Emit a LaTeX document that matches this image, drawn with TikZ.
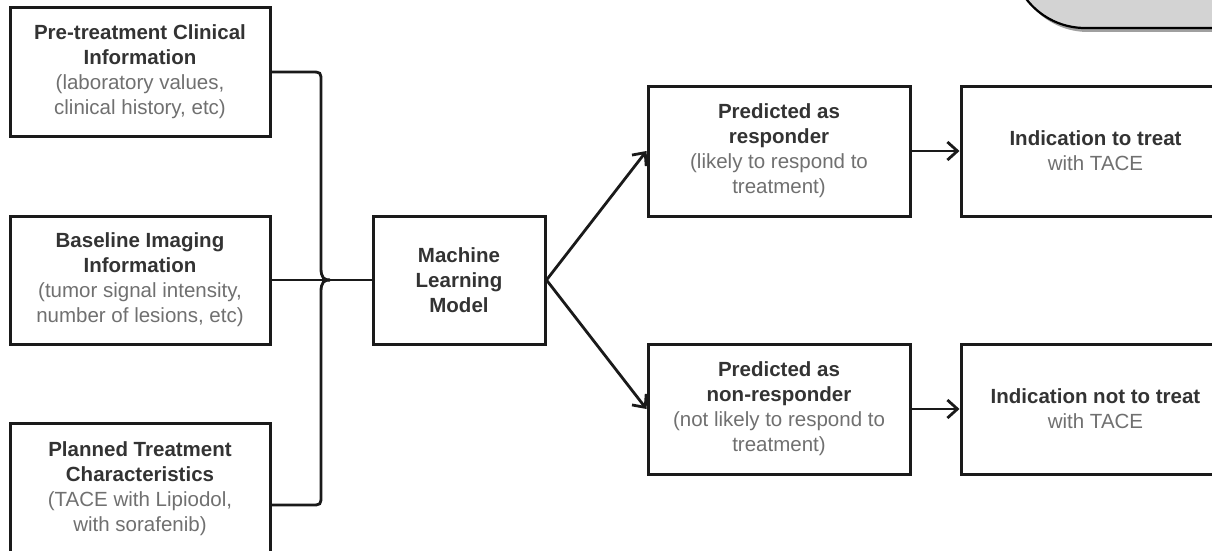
\documentclass[tikz,border=0pt]{standalone}
\usepackage{fontspec}
\setmainfont{Liberation Sans}
\usetikzlibrary{arrows.meta}
\definecolor{titlec}{HTML}{333333}
\definecolor{subc}{HTML}{707070}
\definecolor{edgec}{HTML}{1A1A1A}
\definecolor{tabfill}{HTML}{D3D3D3}
\definecolor{tabshadow}{HTML}{A0A0A0}
\tikzset{
  box/.style={draw=edgec, line width=3pt, fill=white, align=center, inner sep=0pt,
    font=\fontsize{20.5}{25}\selectfont},
  conn/.style={draw=edgec, line width=2.8pt},
  arr/.style={conn, -{Straight Barb[length=10pt,width=18pt,line width=2.8pt]}},
}
\newcommand{\ttl}[1]{\textcolor{titlec}{\textbf{#1}}}
\newcommand{\sbt}[1]{\textcolor{subc}{#1}}
\begin{document}
\begin{tikzpicture}[x=1pt,y=-1pt]
\useasboundingbox (0,0) rectangle (1212,551);
\fill[white] (0,0) rectangle (1212,551);
\clip (0,0) rectangle (1212,551);
% top-right tab
\path[fill=tabshadow, rounded corners=74pt] (1014,-200) -- (1014,32) -- (1300,32) -- (1300,-200) -- cycle;
\path[fill=tabfill, draw=black, line width=2.2pt, rounded corners=74pt] (1011,-200) -- (1011,28) -- (1300,28) -- (1300,-200) -- cycle;
% input boxes
\node[box, minimum width=260pt, minimum height=128pt] (b1) at (140,72)
  {\ttl{Pre-treatment Clinical}\\\ttl{Information}\\\sbt{(laboratory values,}\\\sbt{clinical history, etc)}};
\node[box, minimum width=260pt, minimum height=128pt] (b2) at (140,280)
  {\ttl{Baseline Imaging}\\\ttl{Information}\\\sbt{(tumor signal intensity,}\\\sbt{number of lesions, etc)}};
\node[box, minimum width=260pt, minimum height=132pt] (b3) at (140,489)
  {\ttl{Planned Treatment}\\\ttl{Characteristics}\\\sbt{(TACE with Lipiodol,}\\\sbt{with sorafenib)}};
% model
\node[box, minimum width=172pt, minimum height=128pt] (ml) at (459,280)
  {\ttl{Machine}\\\ttl{Learning}\\\ttl{Model}};
% predictions
\node[box, minimum width=262pt, minimum height=130pt] (pr) at (779,151)
  {\ttl{Predicted as}\\\ttl{responder}\\\sbt{(likely to respond to}\\\sbt{treatment)}};
\node[box, minimum width=262pt, minimum height=130pt] (pn) at (779,409)
  {\ttl{Predicted as}\\\ttl{non-responder}\\\sbt{(not likely to respond to}\\\sbt{treatment)}};
% indications
\node[box, minimum width=269pt, minimum height=130pt] (it) at (1095.5,151)
  {\ttl{Indication to treat}\\\sbt{with TACE}};
\node[box, minimum width=269pt, minimum height=130pt] (in) at (1095.5,409)
  {\ttl{Indication not to treat}\\\sbt{with TACE}};
% merging connectors
\coordinate (j) at (330,280);
\draw[conn] (b1.east) -- (311,72) .. controls (321,72) .. (321,82) -- (321,268) .. controls (321,278) and (324,280) .. (j);
\draw[conn] (b3.east |- 0,505) -- (311,505) .. controls (321,505) .. (321,495) -- (321,292) .. controls (321,282) and (324,280) .. (j);
\draw[conn] (b2.east) -- (ml.west);
% outputs
\draw[arr] (ml.east) -- (pr.west);
\draw[arr] (ml.east) -- (pn.west);
\draw[arr] (pr.east) -- (it.west);
\draw[arr] (pn.east) -- (in.west);
\end{tikzpicture}
\end{document}
